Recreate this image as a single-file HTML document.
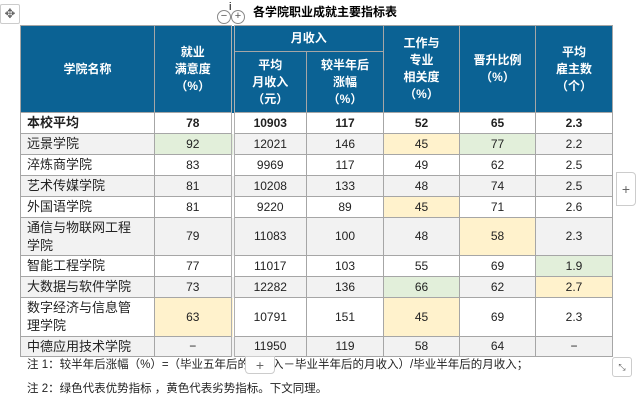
<!DOCTYPE html>
<html><head><meta charset="utf-8"><style>
body{margin:0;width:636px;height:403px;background:#fff;position:relative;overflow:hidden;font-family:"Liberation Sans","Noto Sans CJK SC",sans-serif;}
table{position:absolute;left:20px;top:25px;border-collapse:collapse;table-layout:fixed;width:593px;font-size:12px;color:#222}
td,th{border:1px solid #a6a6a6;padding:0;text-align:center;line-height:15px}
th{background:#0b6294;color:#fff;font-weight:bold;line-height:17px}
td.n{text-align:left;padding-left:6px;font-size:13px;line-height:18px}
.sep{border-right:4px double #b0b0b0}
.g{background:#f2f2f2}
.gr{background:#e2efda}
.y{background:#fff2cc}
.b td{font-weight:bold}
.title{position:absolute;left:253px;top:3px;font-size:12px;font-weight:bold}
.note{position:absolute;left:27px;font-size:11.5px;color:#222}
.mv{position:absolute;left:0;top:4px;width:18px;height:18px;border:1px solid #ccc;border-radius:2px;font-size:13px;text-align:center;line-height:18px;color:#666}
.circ{position:absolute;top:10px;width:12px;height:12px;border:1px solid #888;border-radius:50%;font-size:11px;line-height:11px;text-align:center;color:#555;background:#fff}
.plus{position:absolute;border:1px solid #ccc;background:#fff;color:#666;text-align:center;font-size:14px}
</style></head><body>
<div class="mv">✥</div>
<div class="circ" style="left:217px">−</div><div class="circ" style="left:231px">+</div>
<div style="position:absolute;left:229px;top:1px;font-size:11px">i</div>
<div class="title">各学院职业成就主要指标表</div>
<table>
<colgroup><col style="width:134px"><col style="width:78px"><col style="width:74px"><col style="width:77px"><col style="width:76px"><col style="width:76px"><col style="width:77px"></colgroup>
<tr style="height:26px"><th rowspan="2">学院名称</th><th rowspan="2" class="sep">就业<br>满意度<br>（%）</th><th colspan="2">月收入</th><th rowspan="2">工作与<br>专业<br>相关度<br>（%）</th><th rowspan="2">晋升比例<br>（%）</th><th rowspan="2">平均<br>雇主数<br>（个）</th></tr>
<tr style="height:61px"><th>平均<br>月收入<br>（元）</th><th>较半年后<br>涨幅<br>（%）</th></tr>
<tr class="b" style="height:21px"><td class="n">本校平均</td><td class="sep">78</td><td>10903</td><td>117</td><td>52</td><td>65</td><td>2.3</td></tr>
<tr class="g" style="height:21px"><td class="n">远景学院</td><td class="sep gr">92</td><td>12021</td><td>146</td><td class="y">45</td><td class="gr">77</td><td>2.2</td></tr>
<tr style="height:21px"><td class="n">淬炼商学院</td><td class="sep">83</td><td>9969</td><td>117</td><td>49</td><td>62</td><td>2.5</td></tr>
<tr class="g" style="height:21px"><td class="n">艺术传媒学院</td><td class="sep">81</td><td>10208</td><td>133</td><td>48</td><td>74</td><td>2.5</td></tr>
<tr style="height:21px"><td class="n">外国语学院</td><td class="sep">81</td><td>9220</td><td>89</td><td class="y">45</td><td>71</td><td>2.6</td></tr>
<tr class="g" style="height:38px"><td class="n">通信与物联网工程<br>学院</td><td class="sep">79</td><td>11083</td><td>100</td><td>48</td><td class="y">58</td><td>2.3</td></tr>
<tr style="height:21px"><td class="n">智能工程学院</td><td class="sep">77</td><td>11017</td><td>103</td><td>55</td><td>69</td><td class="gr">1.9</td></tr>
<tr class="g" style="height:21px"><td class="n">大数据与软件学院</td><td class="sep">73</td><td>12282</td><td>136</td><td class="gr">66</td><td>62</td><td class="y">2.7</td></tr>
<tr style="height:39px"><td class="n">数字经济与信息管<br>理学院</td><td class="sep y">63</td><td>10791</td><td>151</td><td class="y">45</td><td>69</td><td>2.3</td></tr>
<tr class="g" style="height:20px"><td class="n">中德应用技术学院</td><td class="sep">−</td><td>11950</td><td>119</td><td>58</td><td>64</td><td>−</td></tr>
</table>
<div class="note" style="top:356px">注 1：较半年后涨幅（%）=（毕业五年后的月收入－毕业半年后的月收入）/毕业半年后的月收入；</div>
<div class="note" style="top:380px">注 2：绿色代表优势指标 ，黄色代表劣势指标。下文同理。</div>
<div class="plus" style="left:245px;top:356px;width:28px;height:16px;line-height:16px;border-radius:0 0 4px 4px">+</div>
<div class="plus" style="left:616px;top:172px;width:18px;height:32px;line-height:32px;border-radius:0 4px 4px 0">+</div>
<div class="plus" style="left:612px;top:357px;width:18px;height:18px;font-size:9px;line-height:18px;border-radius:3px">⤡</div>
</body></html>
